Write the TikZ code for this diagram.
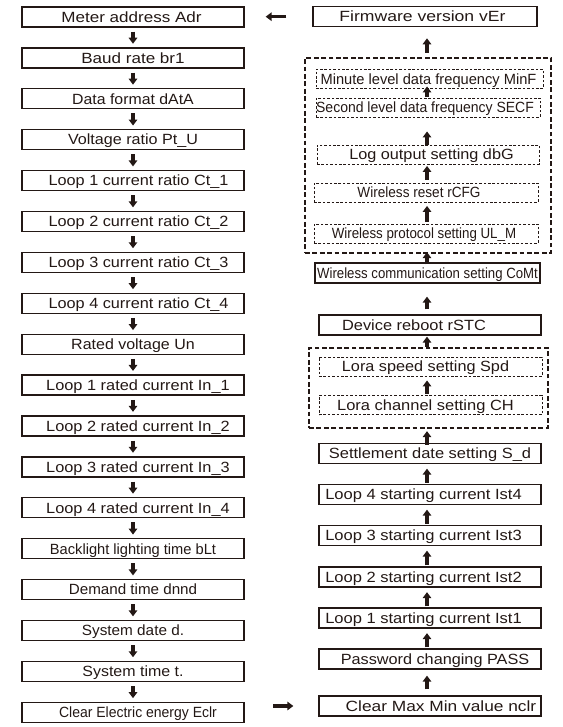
\documentclass[tikz,border=0pt]{standalone}
\usepackage{fontspec}
\setmainfont{Liberation Sans}
\usepackage{graphicx}
\usetikzlibrary{arrows.meta,calc}
\definecolor{ink}{HTML}{231815}
\newcommand\mylbl[3]{\hspace*{#1pt}\scalebox{\fpeval{#2*0.9}}[1]{#3}}
\tikzset{
  base/.style={inner sep=0pt, text height=10.6pt, text depth=0pt, text=ink,
    font=\fontsize{14.8pt}{15pt}\selectfont},
  lbox/.style={base, draw=ink, line width=1.3pt, minimum height=20pt, minimum width=222pt},
  dbox/.style={base, draw=ink, line width=0.9pt, dash pattern=on 2.6pt off 1.8pt,
    minimum height=19pt, minimum width=222pt},
  grp/.style={draw=ink, line width=2.3pt, dash pattern=on 4.8pt off 2.6pt, inner sep=0pt},
  arr/.style={draw=ink, line width=3.3pt, -{Triangle[length=6pt,width=8.5pt]}},
}
\begin{document}
\begin{tikzpicture}[x=1pt,y=-1pt]
\useasboundingbox (0,0) rectangle (562,727);
% left column
\node[lbox] (L0)  at (133,17.0)  {\mylbl{-3}{1.28}{Meter address Adr}};
\node[lbox] (L1)  at (133,57.9)  {\mylbl{0}{1.28}{Baud rate br1}};
\node[lbox] (L2)  at (133,98.8)  {\mylbl{0}{1.19}{Data format dAtA}};
\node[lbox] (L3)  at (133,139.7) {\mylbl{0}{1.21}{Voltage ratio Pt\_U}};
\node[lbox] (L4)  at (133,180.6) {\mylbl{11}{1.22}{Loop 1 current ratio Ct\_1}};
\node[lbox] (L5)  at (133,221.5) {\mylbl{11}{1.22}{Loop 2 current ratio Ct\_2}};
\node[lbox] (L6)  at (133,262.4) {\mylbl{11}{1.22}{Loop 3 current ratio Ct\_3}};
\node[lbox] (L7)  at (133,303.3) {\mylbl{11}{1.22}{Loop 4 current ratio Ct\_4}};
\node[lbox] (L8)  at (133,344.2) {\mylbl{0}{1.20}{Rated voltage Un}};
\node[lbox] (L9)  at (133,385.1) {\mylbl{10}{1.227}{Loop 1 rated current In\_1}};
\node[lbox] (L10) at (133,426.0) {\mylbl{10}{1.227}{Loop 2 rated current In\_2}};
\node[lbox] (L11) at (133,466.9) {\mylbl{10}{1.227}{Loop 3 rated current In\_3}};
\node[lbox] (L12) at (133,507.8) {\mylbl{10}{1.227}{Loop 4 rated current In\_4}};
\node[lbox] (L13) at (133,548.7) {\mylbl{0}{1.10}{Backlight lighting time bLt}};
\node[lbox] (L14) at (133,589.6) {\mylbl{0}{1.14}{Demand time dnnd}};
\node[lbox] (L15) at (133,630.5) {\mylbl{0}{1.15}{System date d.}};
\node[lbox] (L16) at (133,671.4) {\mylbl{0}{1.20}{System time t.}};
\node[lbox] (L17) at (133,712.3) {\mylbl{10}{1.05}{Clear Electric energy Eclr}};
\foreach \i [evaluate=\i as \j using int(\i+1)] in {0,...,16}
  \draw[arr, shorten <=4pt, shorten >=3.5pt] (L\i.south) -- (L\j.north);
% right column
\node[lbox, minimum width=224pt] (fw) at (425,16.7) {\mylbl{-5}{1.32}{Firmware version vEr}};
\node[grp, minimum width=246pt, minimum height=195pt] (gA) at (428,155.5) {};
\node[dbox, minimum width=227pt] (mnf) at (429.5,79) {\mylbl{-2}{1.10}{Minute level data frequency MinF}};
\node[dbox, minimum width=224pt] (scf) at (428,107.5) {\mylbl{-6}{1.05}{Second level data frequency SECF}};
\node[dbox] (dbg) at (428,154.5) {\mylbl{7}{1.22}{Log output setting dbG}};
\node[dbox, minimum width=224pt] (rst) at (426,192.5) {\mylbl{-14}{1.02}{Wireless reset rCFG}};
\node[dbox, minimum width=224pt] (ulm) at (426,233.5) {\mylbl{-4}{1.0}{Wireless protocol setting UL\_M}};
\node[lbox, minimum width=225pt] (comt) at (427.5,273) {\mylbl{0}{0.99}{Wireless communication setting CoMt}};
\node[lbox] (dev) at (430,325) {\mylbl{-32}{1.23}{Device reboot rSTC}};
\node[grp, minimum width=239pt, minimum height=80pt] (gB) at (428.5,388) {};
\node[dbox, minimum width=223pt] (spd) at (430.5,366.5) {\mylbl{-10}{1.22}{Lora speed setting Spd}};
\node[dbox, minimum width=223pt] (ch) at (430.5,405) {\mylbl{-10}{1.236}{Lora channel setting CH}};
\node[lbox] (sd) at (430,453.5) {\mylbl{0}{1.236}{Settlement date setting S\_d}};
\node[lbox] (i4) at (430,494.5) {\mylbl{-13}{1.24}{Loop 4 starting current Ist4}};
\node[lbox] (i3) at (430,535.5) {\mylbl{-13}{1.24}{Loop 3 starting current Ist3}};
\node[lbox] (i2) at (430,577) {\mylbl{-13}{1.24}{Loop 2 starting current Ist2}};
\node[lbox] (i1) at (430,618) {\mylbl{-13}{1.24}{Loop 1 starting current Ist1}};
\node[lbox] (pass) at (430,659) {\mylbl{10}{1.22}{Password changing PASS}};
\node[lbox] (nclr) at (430,706) {\mylbl{22}{1.30}{Clear Max Min value nclr}};
\coordinate (rx) at (427,0);
\draw[arr, shorten <=4pt, shorten >=11pt] (rx |- gA.north) -- (rx |- fw.south);
\draw[arr, shorten <=1pt, shorten >=-2.5pt] (rx |- scf.north) -- (rx |- mnf.south);
\draw[arr, shorten <=0pt, shorten >=14pt] (rx |- dbg.north) -- (rx |- scf.south);
\draw[arr, shorten <=3pt, shorten >=1.5pt] (rx |- rst.north) -- (rx |- dbg.south);
\draw[arr, shorten <=2pt, shorten >=3.5pt] (rx |- ulm.north) -- (rx |- rst.south);
\draw[arr, shorten <=-2pt, shorten >=-2pt] (rx |- comt.north) -- (rx |- gA.south);
\draw[arr, shorten <=5pt, shorten >=13pt] (rx |- dev.north) -- (rx |- comt.south);
\draw[arr, shorten <=0pt, shorten >=1pt] (rx |- gB.north) -- (rx |- dev.south);
\draw[arr, shorten <=1pt, shorten >=4pt] (rx |- ch.north) -- (rx |- spd.south);
\draw[arr, shorten <=-2pt, shorten >=2pt] (rx |- sd.north) -- (rx |- gB.south);
\draw[arr, shorten <=1pt, shorten >=4.5pt] (rx |- i4.north) -- (rx |- sd.south);
\draw[arr, shorten <=1pt, shorten >=4.5pt] (rx |- i3.north) -- (rx |- i4.south);
\draw[arr, shorten <=1pt, shorten >=4.5pt] (rx |- i2.north) -- (rx |- i3.south);
\draw[arr, shorten <=1pt, shorten >=4.5pt] (rx |- i1.north) -- (rx |- i2.south);
\draw[arr, shorten <=1pt, shorten >=4.5pt] (rx |- pass.north) -- (rx |- i1.south);
\draw[arr, shorten <=6pt, shorten >=6pt] (rx |- nclr.north) -- (rx |- pass.south);
% horizontal arrows
\draw[arr, shorten <=26pt, shorten >=21pt] (fw.west) -- (fw.west -| L0.east);
\draw[arr, shorten <=28.7pt, shorten >=25pt] (L17.east |- nclr.west) -- (nclr.west);
\end{tikzpicture}
\end{document}
